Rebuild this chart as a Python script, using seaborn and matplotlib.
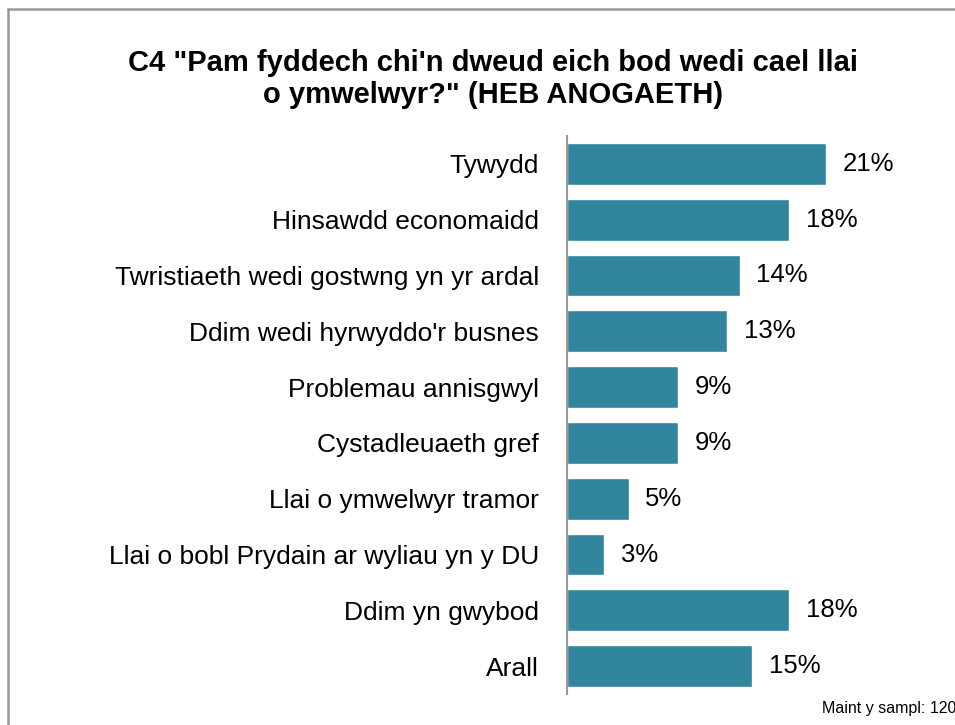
import matplotlib.pyplot as plt
from matplotlib.lines import Line2D
import seaborn as sns
import pandas as pd

categories = ["Tywydd", "Hinsawdd economaidd", "Twristiaeth wedi gostwng yn yr ardal",
              "Ddim wedi hyrwyddo'r busnes", "Problemau annisgwyl", "Cystadleuaeth gref",
              "Llai o ymwelwyr tramor", "Llai o bobl Prydain ar wyliau yn y DU",
              "Ddim yn gwybod", "Arall"]
values = [21, 18, 14, 13, 9, 9, 5, 3, 18, 15]

df = pd.DataFrame({"reason": categories, "pct": values})

sns.set_style("white")
plt.rcParams['font.family'] = ['Liberation Sans', 'DejaVu Sans']

W, H = 955, 725
fig = plt.figure(figsize=(W / 100, H / 100), dpi=100)
ax = fig.add_axes([567 / W, 1 - 694 / H, (940 - 567) / W, (694 - 136) / H])

sns.barplot(data=df, x="pct", y="reason", color="#31859c", width=0.75,
            saturation=1, ax=ax, orient="h")

for i, v in enumerate(values):
    ax.text(v + 1.35, i, f"{v}%", va="center", ha="left", fontsize=18.5, color="black")

ax.set_xlim(0, (940 - 567) / 12.33)
ax.set_ylim(9.5, -0.5)
ax.set_xlabel("")
ax.set_ylabel("")
ax.set_xticks([])
ax.tick_params(axis="y", length=0, pad=20, labelsize=19, labelcolor="black")
for s in ["top", "right", "bottom"]:
    ax.spines[s].set_visible(False)
ax.spines["left"].set_color("#999999")
ax.spines["left"].set_linewidth(1.5)

fig.text(493 / W, 1 - 79 / H, "C4 \"Pam fyddech chi'n dweud eich bod wedi cael llai\no ymwelwyr?\" (HEB ANOGAETH)",
         ha="center", va="center", fontsize=21, fontweight="bold", linespacing=1.2,
         color="black")
fig.text(822 / W, 1 - 708 / H, "Maint y sampl: 120", ha="left", va="center", fontsize=11.5,
         color="black")

fig.add_artist(Line2D([8 / W, 8 / W], [0, 1 - 9 / H], color="#999999", lw=1.8))
fig.add_artist(Line2D([8 / W, 1], [1 - 9 / H, 1 - 9 / H], color="#999999", lw=1.8))

fig.savefig("out.png", dpi=100)
